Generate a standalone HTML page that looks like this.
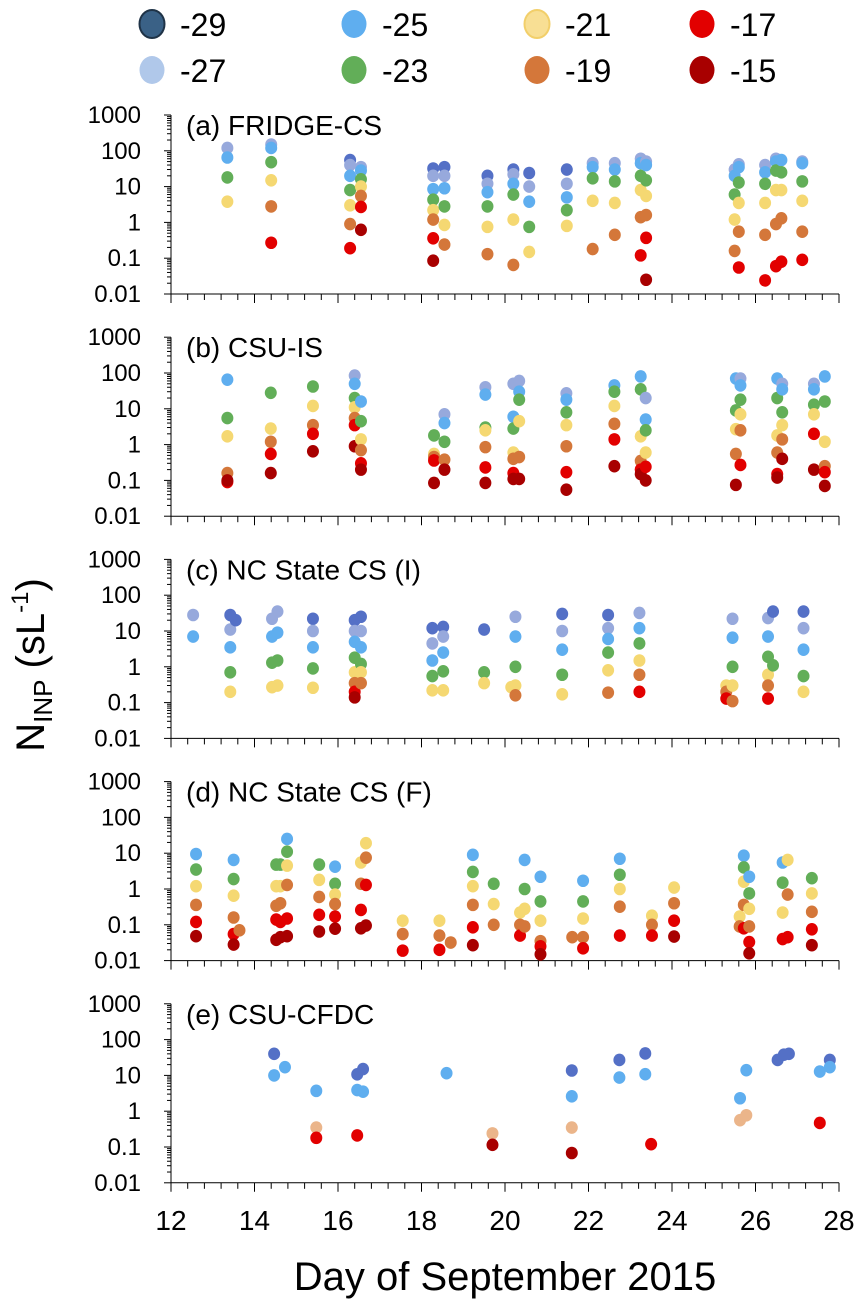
<!DOCTYPE html>
<html><head><meta charset="utf-8"><style>
html,body{margin:0;padding:0;background:#fff;}
svg{display:block;font-family:"Liberation Sans",sans-serif;}
</style></head><body>
<svg id="chart" width="861" height="1313" viewBox="0 0 861 1313" xmlns="http://www.w3.org/2000/svg">
<g id="legend"></g>
<g id="panels"></g>
<text x="505" y="1290" font-size="40" text-anchor="middle" fill="#000">Day of September 2015</text>
<text transform="translate(44,665) rotate(-90)" font-size="40" text-anchor="middle" fill="#000">N<tspan font-size="26" dy="8">INP</tspan><tspan dy="-8"> (sL</tspan><tspan font-size="24" dy="-16">-1</tspan><tspan dy="16">)</tspan></text>
</svg>
<script>
const seriesLabels = ["-29","-27","-25","-23","-21","-19","-17","-15"];
const seriesColors = ["#5470C6","#97A9DC","#5FAEEF","#62AE58","#F5D872","#D4773A","#E20000","#A80000"];
const legendColors = ["#3A6186","#B0C8EA","#5FAEEF","#62AE58","#F8DF94","#D4773A","#E20000","#A80000"];
const xTicks = [12,14,16,18,20,22,24,26,28];
const yTickLabels = ["1000","100","10","1","0.1","0.01"];
const panelTitles = ["(a) FRIDGE-CS","(b) CSU-IS","(c) NC State CS (I)","(d) NC State CS (F)","(e) CSU-CFDC"];
const N = null;
const panelA = [
[13.35,[N,120,65,18,3.8,N,N,N]],
[14.4,[N,150,120,48,15,2.8,0.27,N]],
[16.29,[55,40,20,8,3,0.9,0.19,N]],
[16.55,[N,35,28,16,10,5.5,2.7,0.62]],
[18.28,[32,20,8.5,4.3,2.2,1.2,0.36,0.085]],
[18.55,[35,20,9,2.8,0.85,0.24,N,N]],
[19.58,[20,12,7,2.8,0.75,0.13,N,N]],
[20.2,[30,22,12,6,1.2,0.065,N,N]],
[20.58,[24,10,3.8,0.75,0.15,N,N,N]],
[21.48,[30,12,5,2.2,0.8,N,N,N]],
[22.1,[N,45,35,17,4,0.18,N,N]],
[22.63,[N,45,30,14,3.5,0.45,N,N]],
[23.25,[N,60,45,20,8,1.4,0.12,N]],
[23.38,[N,50,40,15,5.5,1.6,0.37,0.025]],
[25.5,[N,30,20,6,1.2,0.16,N,N]],
[25.6,[N,42,35,13,3.5,0.55,0.055,N]],
[26.23,[N,40,25,12,3.5,0.45,0.024,N]],
[26.49,[N,60,50,28,8,0.9,0.06,N]],
[26.62,[N,N,55,25,8,1.3,0.08,N]],
[27.12,[N,50,45,14,4,0.55,0.09,N]]
];
const panelB = [
[13.35,[N,N,65,5.5,1.7,0.16,0.09,0.1]],
[14.39,[N,N,N,28,2.8,1.2,0.55,0.16]],
[15.4,[N,N,N,42,12,3.5,2,0.65]],
[16.4,[N,85,50,20,11,5.5,3.5,0.9]],
[16.55,[N,N,16,4.5,1.4,0.7,0.3,0.2]],
[18.3,[N,N,N,1.8,0.55,0.45,0.36,0.085]],
[18.55,[N,7,4,1.2,N,0.38,N,0.2]],
[19.53,[N,40,25,3,2.5,0.85,0.23,0.085]],
[20.2,[N,50,6,2.8,0.6,0.4,0.16,0.11]],
[20.34,[N,60,30,18,4.5,0.45,N,0.11]],
[21.47,[N,27,18,8,3.5,0.9,0.17,0.055]],
[22.62,[N,N,45,30,12,3.8,1.4,0.25]],
[23.25,[N,N,80,35,1.7,0.35,0.2,0.15]],
[23.37,[N,20,5,2.5,0.6,N,0.24,0.1]],
[25.53,[N,N,70,9,2.7,0.55,N,0.075]],
[25.64,[N,70,45,18,7,2.5,0.27,N]],
[26.52,[N,N,70,20,1.8,0.6,0.15,0.12]],
[26.64,[N,50,35,8,3.5,1.4,N,0.4]],
[27.4,[N,50,35,13,7,N,2,0.2]],
[27.66,[N,N,80,16,1.2,0.25,0.17,0.07]]
];
const panelC = [
[12.53,[N,28,7,N,N,N,N,N]],
[13.42,[28,11,3.5,0.7,0.2,N,N,N]],
[13.55,[20,N,N,N,N,N,N,N]],
[14.42,[N,22,7,1.3,0.27,N,N,N]],
[14.55,[N,35,9,1.5,0.3,N,N,N]],
[15.4,[22,10,3.5,0.9,0.26,N,N,N]],
[16.4,[20,10,5,1.8,0.7,0.35,0.2,0.14]],
[16.55,[25,10,3.5,1.2,0.7,0.35,N,N]],
[18.26,[12,4.5,1.5,0.55,0.22,N,N,N]],
[18.52,[13,7,2.5,0.75,0.22,N,N,N]],
[19.5,[11,N,N,0.7,0.35,N,N,N]],
[20.15,[N,N,N,N,0.27,N,N,N]],
[20.25,[N,25,7,1,0.3,0.16,N,N]],
[21.37,[30,10,3,0.6,0.17,N,N,N]],
[22.47,[28,12,6,2.5,0.8,0.19,N,N]],
[23.22,[N,32,12,4.5,1.5,0.6,0.2,N]],
[25.3,[N,N,N,N,0.3,0.2,0.13,N]],
[25.45,[N,22,6.5,1,0.3,0.11,N,N]],
[26.3,[N,23,7,1.9,0.6,0.3,0.13,N]],
[26.42,[35,N,N,1.1,N,N,N,N]],
[27.15,[35,12,3,0.55,0.2,N,N,N]]
];
const panelD = [
[12.6,[N,N,9.5,3.5,1.2,0.36,0.12,0.048]],
[13.5,[N,N,6.5,1.9,0.65,0.16,0.055,0.028]],
[13.64,[N,N,N,N,N,0.07,N,N]],
[14.52,[N,N,N,4.8,1.2,0.34,0.14,0.038]],
[14.62,[N,N,N,4.8,1.2,0.4,0.12,0.045]],
[14.78,[N,N,25,11,4.5,1.3,0.15,0.048]],
[15.55,[N,N,N,4.8,1.8,0.6,0.19,0.065]],
[15.93,[N,N,4.2,1.4,0.7,0.38,0.17,0.078]],
[16.55,[N,N,N,N,5.5,1.4,0.26,0.08]],
[16.67,[N,N,N,N,19,7.5,1.3,0.095]],
[17.55,[N,N,N,N,0.13,0.055,0.019,N]],
[18.43,[N,N,N,N,0.13,0.05,0.02,N]],
[18.7,[N,N,N,N,N,0.032,N,N]],
[19.23,[N,N,9,3,1.2,0.36,0.085,0.027]],
[19.73,[N,N,N,1.4,0.38,0.1,N,N]],
[20.36,[N,N,N,N,0.22,0.1,0.05,N]],
[20.47,[N,N,6.5,1,0.28,0.09,N,N]],
[20.85,[N,N,2.2,0.45,0.13,0.035,0.025,0.015]],
[21.61,[N,N,N,N,N,0.045,N,N]],
[21.87,[N,N,1.7,0.45,0.15,0.045,0.022,N]],
[22.75,[N,N,7,2.5,1,0.32,0.05,N]],
[23.52,[N,N,N,N,0.18,0.1,0.05,N]],
[24.05,[N,N,N,N,1.1,0.4,0.13,0.047]],
[25.62,[N,N,N,N,0.17,0.09,N,N]],
[25.72,[N,N,8.5,4,1.6,0.36,0.08,N]],
[25.85,[N,N,2.2,0.75,0.28,0.09,0.033,0.016]],
[26.65,[N,N,5.5,1.5,0.22,N,0.04,N]],
[26.77,[N,N,N,N,6.5,0.7,0.045,N]],
[27.35,[N,N,N,2,0.75,0.23,0.075,0.027]]
];
const panelE = [
[14.47,[40,N,10,N,N,N,N,N]],
[14.73,[N,N,17,N,N,N,N,N]],
[15.48,[N,N,3.7,N,N,0.35,0.18,N]],
[16.46,[10.7,N,3.9,N,N,N,0.21,N]],
[16.6,[15,N,3.5,N,N,N,N,N]],
[18.6,[N,N,11.5,N,N,N,N,N]],
[19.7,[N,N,N,N,N,0.24,N,0.115]],
[21.6,[13.7,N,2.6,N,N,0.35,N,0.068]],
[22.74,[27,N,8.7,N,N,N,N,N]],
[23.36,[41,N,10.8,N,N,N,N,N]],
[23.5,[N,N,N,N,N,N,0.12,N]],
[25.63,[N,N,2.3,N,N,0.56,N,N]],
[25.78,[N,N,14,N,N,0.77,N,N]],
[26.53,[27,N,N,N,N,N,N,N]],
[26.68,[38,N,N,N,N,N,N,N]],
[26.8,[40,N,N,N,N,N,N,N]],
[27.54,[N,N,12.8,N,N,N,0.47,N]],
[27.78,[27,N,17,N,N,N,N,N]]
];
const panels = [panelA,panelB,panelC,panelD,panelE];

const NS="http://www.w3.org/2000/svg";
function mk(tag,attrs,parent){const e=document.createElementNS(NS,tag);for(const k in attrs)e.setAttribute(k,attrs[k]);parent.appendChild(e);return e;}
const X0=171, PXD=41.75, AX=171, AXR=839;
const xScale=d=>X0+(d-12)*PXD;
const TOP0=115, PSTEP=222.2, DEC=35.8;
function yScale(i,v){return TOP0+PSTEP*i+(3-Math.log10(v))*DEC;}

const lg=document.getElementById('legend');
const lgX=[152,354,537,702], lgY=[24,70];
seriesLabels.forEach((s,k)=>{
  const col=Math.floor(k/2), row=k%2;
  const g=mk('g',{},lg);
  
  
  const c=mk('ellipse',{cx:lgX[col],cy:lgY[row],rx:12.5,ry:14,fill:legendColors[k]},g);
  if(k===0){c.setAttribute('stroke','#1f3347');c.setAttribute('stroke-width','2');}
  if(k===4){c.setAttribute('stroke','#F2CF6A');c.setAttribute('stroke-width','2');}
  const t=mk('text',{x:lgX[col]+28,y:lgY[row]+12,'font-size':32,fill:'#000'},g);
  t.textContent=s;
});

const pg=document.getElementById('panels');
panels.forEach((data,i)=>{
  const g=mk('g',{},pg);
  
  
  const top=TOP0+PSTEP*i, bot=top+5*DEC;
  const ya=mk('g',{stroke:'#000','stroke-width':1},g);
  
  
  mk('line',{x1:AX,y1:top,x2:AX,y2:bot},ya);
  for(let d=0;d<5;d++){
    for(let m=1;m<=9;m++){
      const y=yScale(i,Math.pow(10,-2+d)*m);
      mk('line',{x1:AX-(m===1?7:4),y1:y,x2:AX,y2:y},ya);
    }
  }
  mk('line',{x1:AX-7,y1:top,x2:AX,y2:top},ya);
  yTickLabels.forEach((lab,k)=>{
    const t=mk('text',{x:AX-30,y:top+k*DEC+8,'font-size':24,'text-anchor':'end',fill:'#000'},g);
    
    
    t.textContent=lab;
  });
  const xa=mk('g',{stroke:'#000','stroke-width':1},g);
  
  
  mk('line',{x1:AX,y1:bot,x2:AXR,y2:bot},xa);
  for(let k=0;k<=40;k++){
    const d=12+k*0.4, x=xScale(d);
    mk('line',{x1:x,y1:bot,x2:x,y2:bot+(k%5===0?9:6)},xa);
  }
  if(i===4){
    xTicks.forEach(v=>{
      const t=mk('text',{x:xScale(v),y:bot+47,'font-size':28,'text-anchor':'middle',fill:'#000'},g);
      
      
      t.textContent=v;
    });
  }
  const tt=mk('text',{x:186,y:top+20,'font-size':28,fill:'#000'},g);
  
  
  tt.textContent=panelTitles[i];
  data.forEach(([day,vals])=>{
    vals.forEach((v,s)=>{
      if(v===null) return;
      let col=seriesColors[s];
      if(i===4 && s===5) col="#EBB58A";
      const c=mk('ellipse',{cx:xScale(day),cy:yScale(i,v),rx:6,ry:6.3,fill:col},g);
      
      
    });
  });
});
</script>
</body></html>
